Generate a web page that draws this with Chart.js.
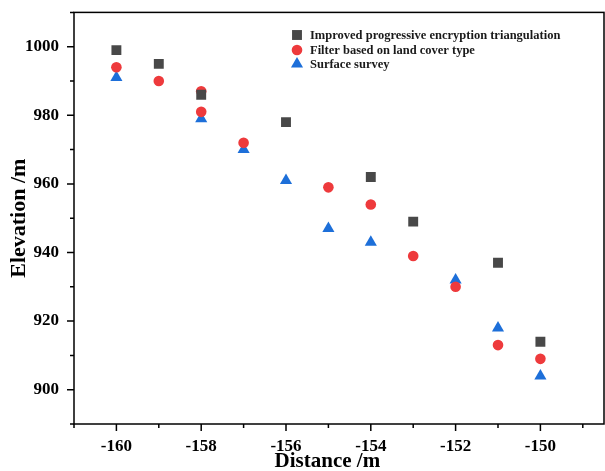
<!DOCTYPE html>
<html>
<head>
<meta charset="utf-8">
<script src="https://cdn.jsdelivr.net/npm/chart.js@4/dist/chart.umd.min.js"></script>
<style>
  html, body { margin: 0; padding: 0; background: #fff; }
  #wrap { width: 605px; height: 471px; }
</style>
</head>
<body>
<div id="wrap"><canvas id="c" width="605" height="471"></canvas></div>
<script>
// ---- Data ----
const seriesNames = [
  'Improved progressive encryption triangulation',
  'Filter based on land cover type',
  'Surface survey'
];
const improvedX = [-160, -159, -158, -156, -154, -153, -151, -150];
const improvedY = [999, 995, 986, 978, 962, 949, 937, 914];
const filterX = [-160, -159, -158, -158, -157, -155, -154, -153, -152, -151, -150];
const filterY = [994, 990, 987, 981, 972, 959, 954, 939, 930, 913, 909];
const surveyX = [-160, -158, -157, -156, -155, -154, -152, -151, -150];
const surveyY = [991, 979, 970, 961, 947, 943, 932, 918, 904];
const xTickValues = [-160, -158, -156, -154, -152, -150];
const yTickValues = [900, 920, 940, 960, 980, 1000];
const xTitle = 'Distance /m';
const yTitle = 'Elevation /m';

const toPts = (xs, ys) => xs.map((x, i) => ({ x: x, y: ys[i] }));
const FONT = "'Liberation Serif', 'Times New Roman', serif";

function drawMarker(ctx, style, r, x, y) {
  if (style === 'rect') {
    const s = r * Math.SQRT1_2;
    ctx.rect(x - s, y - s, 2 * s, 2 * s);
  } else if (style === 'circle') {
    ctx.arc(x, y, r, 0, Math.PI * 2);
  } else if (style === 'triangle') {
    ctx.moveTo(x, y - r);
    ctx.lineTo(x + r * Math.sin(2 * Math.PI / 3), y + r * 0.5);
    ctx.lineTo(x - r * Math.sin(2 * Math.PI / 3), y + r * 0.5);
    ctx.closePath();
  }
}

const axisDecor = {
  id: 'axisDecor',
  afterDraw(chart) {
    const { ctx, chartArea: a, scales: { x, y } } = chart;
    ctx.save();
    ctx.strokeStyle = '#000';
    ctx.lineWidth = 1.5;
    ctx.strokeRect(a.left, a.top, a.right - a.left, a.bottom - a.top);
    ctx.beginPath();
    for (let v = -161; v <= -149; v++) {
      const px = x.getPixelForValue(v);
      const len = (v % 2 === 0) ? 7 : 4;
      ctx.moveTo(px, a.bottom);
      ctx.lineTo(px, a.bottom + len);
    }
    for (let v = 890; v <= 1010; v += 10) {
      const py = y.getPixelForValue(v);
      const len = (v % 20 === 0) ? 7 : 4;
      ctx.moveTo(a.left, py);
      ctx.lineTo(a.left - len, py);
    }
    ctx.stroke();

    // x-axis title, centred under the ticked range
    ctx.fillStyle = '#000';
    ctx.font = 'bold 21px ' + FONT;
    ctx.textAlign = 'center';
    ctx.textBaseline = 'middle';
    ctx.fillText(xTitle, (x.getPixelForValue(-161) + x.getPixelForValue(-149)) / 2 - 1, 462);

    // legend inside plot
    const lx = 297, tx = 310;
    const rows = [35, 50, 64];
    chart.data.datasets.forEach((ds, i) => {
      ctx.fillStyle = ds.backgroundColor;
      ctx.beginPath();
      drawMarker(ctx, ds.pointStyle, ds.pointRadius, lx, rows[i]);
      ctx.fill();
      ctx.fillStyle = '#1a1a1a';
      ctx.font = 'bold 12.5px ' + FONT;
      ctx.textBaseline = 'middle';
      ctx.textAlign = 'left';
      ctx.fillText(ds.label, tx, rows[i] + 0.5);
    });
    ctx.restore();
  }
};

new Chart(document.getElementById('c'), {
  type: 'scatter',
  data: {
    datasets: [
      { label: seriesNames[0], data: toPts(improvedX, improvedY), pointStyle: 'rect',
        pointRadius: 7, pointHoverRadius: 7, backgroundColor: '#484848', borderColor: '#484848', borderWidth: 0 },
      { label: seriesNames[1], data: toPts(filterX, filterY), pointStyle: 'circle',
        pointRadius: 5.3, pointHoverRadius: 5.3, backgroundColor: '#ee3a3c', borderColor: '#ee3a3c', borderWidth: 0 },
      { label: seriesNames[2], data: toPts(surveyX, surveyY), pointStyle: 'triangle',
        pointRadius: 7, pointHoverRadius: 7, backgroundColor: '#1d6fd9', borderColor: '#1d6fd9', borderWidth: 0 }
    ]
  },
  options: {
    responsive: false,
    animation: false,
    devicePixelRatio: 1,
    layout: { autoPadding: false, padding: { top: 12.4, right: 1, left: 0, bottom: 0 } },
    plugins: { legend: { display: false }, tooltip: { enabled: false } },
    scales: {
      x: {
        type: 'linear', min: -161, max: -148.5,
        afterFit(s) { s.height = 47; s.paddingLeft = 0; s.paddingRight = 0; },
        afterBuildTicks(s) { s.ticks = xTickValues.map(v => ({ value: v })); },
        grid: { display: false, drawTicks: false, tickLength: 0 },
        border: { display: false },
        ticks: { padding: 12, color: '#000', font: { family: FONT, size: 17, weight: 'bold' },
                 maxRotation: 0, autoSkip: false, callback: v => String(v) },
        title: { display: false }
      },
      y: {
        type: 'linear', min: 890, max: 1010,
        afterFit(s) { s.width = 74; s.paddingTop = 0; s.paddingBottom = 0; },
        afterBuildTicks(s) { s.ticks = yTickValues.map(v => ({ value: v })); },
        grid: { display: false, drawTicks: false, tickLength: 0 },
        border: { display: false },
        ticks: { padding: 15, color: '#000', font: { family: FONT, size: 17, weight: 'bold' },
                 autoSkip: false, callback: v => String(v) },
        title: { display: true, text: yTitle, color: '#000',
                 font: { family: FONT, size: 22, weight: 'bold', lineHeight: 1.2 }, padding: { top: 6, bottom: 0 } }
      }
    }
  },
  plugins: [axisDecor]
});
</script>
</body>
</html>
